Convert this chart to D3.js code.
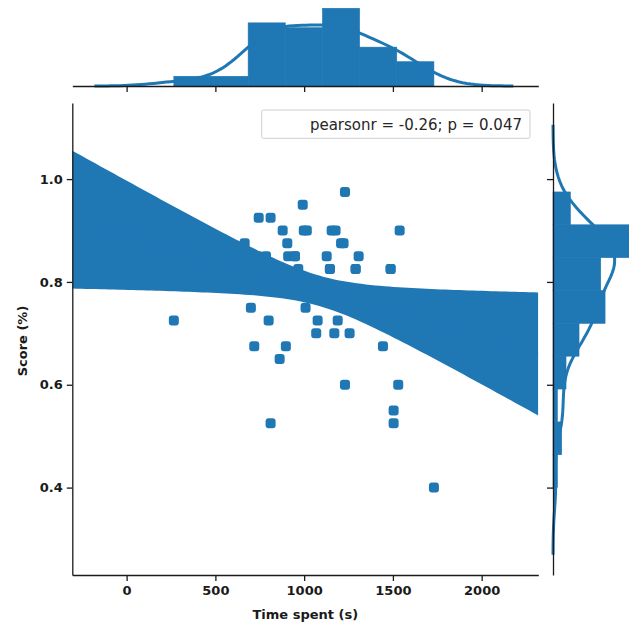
<!DOCTYPE html>
<html><head><meta charset="utf-8">
<script src="https://cdn.jsdelivr.net/npm/d3@7"></script>
<style>body{margin:0;background:#fff;overflow:hidden} svg{display:block}</style>
</head><body>
<svg id="c" width="629" height="625"></svg>
<script>
// ---- data (the last 17 points sit under the CI band / on top of other points) ----
const timeSpent = [1230, 992, 744, 811, 879, 998, 1015, 1155, 1177, 1538,
  665, 905, 1208, 1222, 910, 948, 1127, 1307, 967, 1145, 1290, 1487,
  700, 1008, 266, 800, 1076, 1189, 1068, 1170, 1256, 719, 897, 1444,
  862, 1230, 1530, 1504, 1504, 811, 1731,
  430, 590, 740, 785, 720, 770, 850, 948, 1145, 1250, 1290, 1350, 1400, 1450, 1487, 1600, 1650];
const score = [0.975, 0.95, 0.925, 0.925, 0.9, 0.9, 0.9, 0.9, 0.9, 0.9,
  0.875, 0.875, 0.875, 0.875, 0.85, 0.85, 0.85, 0.85, 0.825, 0.825, 0.825, 0.825,
  0.75, 0.75, 0.725, 0.725, 0.725, 0.725, 0.7, 0.7, 0.7, 0.675, 0.675, 0.675,
  0.65, 0.6, 0.6, 0.55, 0.525, 0.525, 0.4,
  0.8, 0.85, 0.85, 0.85, 0.8, 0.8, 0.8, 0.85, 0.825, 0.75, 0.825, 0.775, 0.75, 0.775, 0.825, 0.775, 0.75];
const xTicks = [0, 500, 1000, 1500, 2000];
const yTicks = [0.4, 0.6, 0.8, 1.0];
const xDomain = [-306, 2319];
const yDomain = [0.230, 1.148];
const xBinCount = 7, yBinCount = 9;
const annotation = "pearsonr = -0.26; p = 0.047";
const xLabel = "Time spent (s)";
const yLabel = "Score (%)";

// ---- layout ----
const C = "#1f77b4", INK = "#1a1a1a";
const M = {l: 72.3, r: 538.3, t: 103, b: 575};
const topBase = 86, topMax = 4.4, rightBase = 553, rightMax = 635;

const svg = d3.select("#c");
const x = d3.scaleLinear().domain(xDomain).range([M.l, M.r]);
const y = d3.scaleLinear().domain(yDomain).range([M.b, M.t]);

const n = timeSpent.length;
const pts = timeSpent.map((v, i) => ({x: v, y: score[i]}));

// ---- regression with 95% CI ----
const mx = d3.mean(timeSpent), my = d3.mean(score);
let sxx = 0, sxy = 0;
pts.forEach(p => { sxx += (p.x - mx) ** 2; sxy += (p.x - mx) * (p.y - my); });
const b = sxy / sxx, a = my - b * mx;
const sse = d3.sum(pts, p => (p.y - (a + b * p.x)) ** 2);
const s = Math.sqrt(sse / (n - 2));
const df = n - 2, z = 1.959964;
const tcrit = z + (z ** 3 + z) / (4 * df) + (5 * z ** 5 + 16 * z ** 3 + 3 * z) / (96 * df * df);
const grid = d3.range(101).map(i => xDomain[0] + i * (xDomain[1] - xDomain[0]) / 100);
const band = grid.map(gx => {
  const yh = a + b * gx;
  const hw = tcrit * s * Math.sqrt(1 / n + (gx - mx) ** 2 / sxx);
  return {x: gx, y: yh, lo: yh - hw, hi: yh + hw};
});

svg.append("clipPath").attr("id", "mainclip").append("rect")
  .attr("x", M.l).attr("y", M.t).attr("width", M.r - M.l).attr("height", M.b - M.t);
const main = svg.append("g").attr("clip-path", "url(#mainclip)");

main.selectAll("rect.pt").data(pts).join("rect").attr("class", "pt")
  .attr("x", d => x(d.x) - 5).attr("y", d => y(d.y) - 5)
  .attr("width", 10).attr("height", 10).attr("rx", 3).attr("fill", C);

main.append("path").datum(band)
  .attr("d", d3.area().x(d => x(d.x)).y0(d => y(d.lo)).y1(d => y(d.hi)))
  .attr("fill", C);
main.append("path").datum(band)
  .attr("d", d3.line().x(d => x(d.x)).y(d => y(d.y)))
  .attr("fill", "none").attr("stroke", C).attr("stroke-width", 1.5);

// ---- marginals (statsmodels-style Scott bandwidth, cut = 3) ----
function kde(vals) {
  const sorted = vals.slice().sort(d3.ascending);
  const iqr = (d3.quantileSorted(sorted, 0.75) - d3.quantileSorted(sorted, 0.25)) / 1.349;
  const A = Math.min(d3.deviation(vals), iqr);
  const bw = 1.059 * A * Math.pow(vals.length, -0.2);
  const lo = d3.min(vals) - 3 * bw, hi = d3.max(vals) + 3 * bw;
  const k = 1 / (vals.length * bw * Math.sqrt(2 * Math.PI));
  return d3.range(100).map(i => {
    const g = lo + i * (hi - lo) / 99;
    return {v: g, d: k * d3.sum(vals, xi => Math.exp(-0.5 * ((g - xi) / bw) ** 2))};
  });
}
function hist(vals, k) {
  const lo = d3.min(vals), hi = d3.max(vals), w = (hi - lo) / k;
  const bins = d3.bin().domain([lo, hi]).thresholds(d3.range(1, k).map(i => lo + i * w))(vals);
  return bins.map(bn => ({x0: bn.x0, x1: bn.x1, d: bn.length / (vals.length * w)}));
}

const hx = hist(timeSpent, xBinCount), kx = kde(timeSpent);
const dxMax = Math.max(d3.max(hx, d => d.d), d3.max(kx, d => d.d));
const ty = d3.scaleLinear().domain([0, dxMax * 1.05]).range([topBase, topMax]);
const gTop = svg.append("g");
gTop.selectAll("rect").data(hx).join("rect")
  .attr("x", d => x(d.x0)).attr("width", d => x(d.x1) - x(d.x0))
  .attr("y", d => ty(d.d)).attr("height", d => topBase - ty(d.d))
  .attr("fill", C).attr("stroke", C).attr("stroke-width", 0.6);
gTop.append("path").datum(kx)
  .attr("d", d3.line().x(d => x(d.v)).y(d => ty(d.d)))
  .attr("fill", "none").attr("stroke", C).attr("stroke-width", 3);

const hy = hist(score, yBinCount), ky = kde(score);
const dyMax = Math.max(d3.max(hy, d => d.d), d3.max(ky, d => d.d));
const rx = d3.scaleLinear().domain([0, dyMax * 1.05]).range([rightBase, rightMax]);
const gRight = svg.append("g");
gRight.selectAll("rect").data(hy).join("rect")
  .attr("x", rightBase).attr("width", d => rx(d.d) - rightBase)
  .attr("y", d => y(d.x1)).attr("height", d => y(d.x0) - y(d.x1))
  .attr("fill", C).attr("stroke", C).attr("stroke-width", 0.6);
gRight.append("path").datum(ky)
  .attr("d", d3.line().x(d => rx(d.d)).y(d => y(d.v)))
  .attr("fill", "none").attr("stroke", C).attr("stroke-width", 3);

// ---- axes ----
function style(g) {
  g.select(".domain").attr("stroke", INK).attr("stroke-width", 1.3);
  g.selectAll(".tick line").attr("stroke", INK).attr("stroke-width", 1.3);
  g.selectAll(".tick text").attr("fill", INK)
    .style("font-family", "'DejaVu Sans', sans-serif").style("font-size", "13px").style("font-weight", "bold");
}
const fmtX = d3.format("d"), fmtY = d3.format(".1f");
style(svg.append("g").attr("transform", `translate(0,${M.b})`)
  .call(d3.axisBottom(x).tickValues(xTicks).tickFormat(fmtX).tickSize(6).tickSizeOuter(0).tickPadding(5)));
style(svg.append("g").attr("transform", `translate(${M.l},0)`)
  .call(d3.axisLeft(y).tickValues(yTicks).tickFormat(fmtY).tickSize(5.5).tickSizeOuter(0).tickPadding(4)));
style(svg.append("g").attr("transform", `translate(0,${topBase})`)
  .call(d3.axisBottom(x).tickValues(xTicks).tickFormat("").tickSize(6).tickSizeOuter(0)));
style(svg.append("g").attr("transform", `translate(${rightBase},0)`)
  .call(d3.axisLeft(y).tickValues(yTicks).tickFormat("").tickSize(6).tickSizeOuter(0)));

svg.append("text").attr("x", (M.l + M.r) / 2).attr("y", 618.5).attr("text-anchor", "middle")
  .style("font-family", "'DejaVu Sans', sans-serif").style("font-size", "13px").style("font-weight", "bold")
  .attr("fill", INK).text(xLabel);
svg.append("text").attr("transform", "translate(27,341) rotate(-90)").attr("text-anchor", "middle")
  .style("font-family", "'DejaVu Sans', sans-serif").style("font-size", "13px").style("font-weight", "bold")
  .attr("fill", INK).text(yLabel);

// ---- annotation legend ----
svg.append("rect").attr("x", 261.7).attr("y", 110).attr("width", 268.3).attr("height", 28.3)
  .attr("rx", 2).attr("fill", "#fff").attr("stroke", "#cfcfcf").attr("stroke-width", 1);
svg.append("text").attr("x", 522).attr("y", 129.5).attr("text-anchor", "end")
  .style("font-family", "'DejaVu Sans', sans-serif").style("font-size", "15px")
  .attr("fill", "#262626").text(annotation);
</script>
</body></html>
